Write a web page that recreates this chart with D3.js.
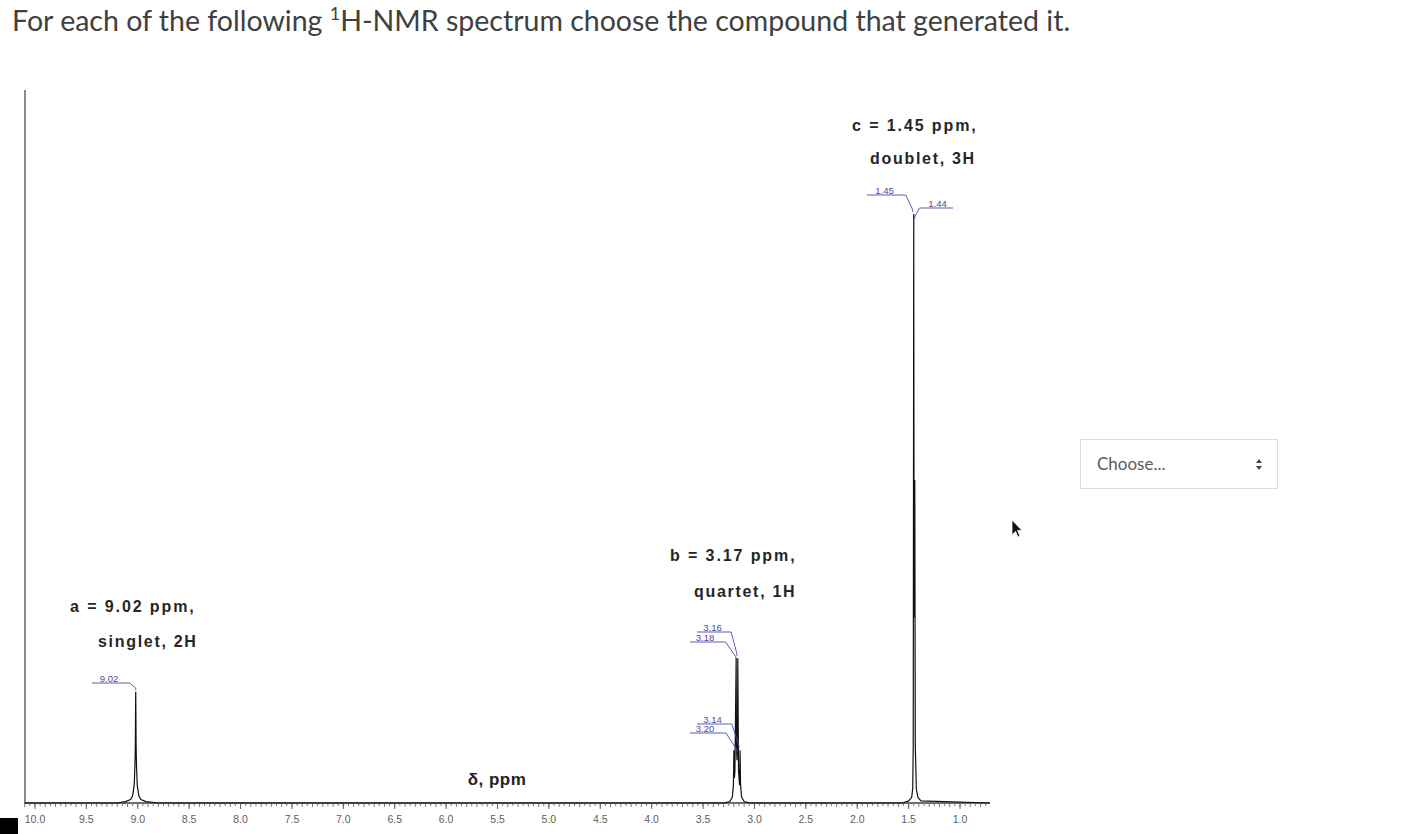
<!DOCTYPE html>
<html><head><meta charset="utf-8">
<script src="https://cdn.jsdelivr.net/npm/d3@7"></script>
<style>
html,body{margin:0;padding:0;background:#fff;}
svg{display:block;}
</style></head>
<body>
<svg id="chart" width="1420" height="834"></svg>
<script>
// ---------- data ----------
const tickLabels = ["10.0","9.5","9.0","8.5","8.0","7.5","7.0","6.5","6.0","5.5","5.0","4.5","4.0","3.5","3.0","2.5","2.0","1.5","1.0"];
const tickValues = [10.0,9.5,9.0,8.5,8.0,7.5,7.0,6.5,6.0,5.5,5.0,4.5,4.0,3.5,3.0,2.5,2.0,1.5,1.0];

// spectrum trace (ppm, intensity)
const spectrumPpm = [10.1, 9.20, 9.12, 9.07, 9.05, 9.035, 9.028, 9.024, 9.02, 9.016, 9.012, 9.005, 8.99, 8.97, 8.92, 8.80,
  3.30, 3.24, 3.215, 3.205, 3.20, 3.195, 3.19, 3.178, 3.175, 3.17, 3.165, 3.162, 3.155, 3.15, 3.145, 3.14, 3.135, 3.125, 3.10, 3.04,
  1.56, 1.50, 1.47, 1.46, 1.455, 1.45, 1.447, 1.445, 1.443, 1.44, 1.435, 1.425, 1.41, 1.38, 0.71];
const spectrumInt = [0, 0, 0.2, 0.5, 1.0, 2.5, 5.0, 7.7, 15.6, 7.7, 5.0, 2.5, 1.0, 0.5, 0.2, 0,
  0, 0.2, 0.8, 2.5, 7.4, 3.5, 4.5, 20.3, 8.0, 6.0, 8.0, 20.3, 4.5, 3.5, 2.5, 7.4, 2.5, 0.8, 0.2, 0,
  0, 0.3, 0.8, 2.0, 8.0, 82.6, 30.0, 26.0, 30.0, 45.3, 8.0, 2.0, 0.8, 0.3, 0];

// peak-pick labels
const pickText  = ["9.02", "3.16", "3.18", "3.14", "3.20", "1.45", "1.44"];
const pickGroup = ["a", "b", "b", "b", "b", "c", "c"];

// multiplet annotations
const multName  = ["a", "b", "c"];
const multShift = [9.02, 3.17, 1.45];
const multDesc  = ["singlet, 2H", "quartet, 1H", "doublet, 3H"];

const titleText = ["For each of the following ", "1", "H-NMR spectrum choose the compound that generated it."];
const axisTitle = "δ, ppm";
const selectText = "Choose...";

// ---------- layout ----------
const svg = d3.select("#chart");
svg.append("rect").attr("width",1420).attr("height",834).attr("fill","#fff");

const x = d3.scaleLinear().domain([10.0, 1.0]).range([35, 960]);
const y = d3.scaleLinear().domain([0, 100]).range([803, 90]);

// title
const title = svg.append("text").attr("x", 12).attr("y", 31)
  .attr("font-family", "Lato, 'Open Sans', sans-serif").attr("font-size", 27)
  .attr("fill", "#404040");
title.append("tspan").text(titleText[0]);
title.append("tspan").attr("font-size", 17).attr("dy", -11).text(titleText[1]);
title.append("tspan").attr("dy", 11).text(titleText[2]);
(function fit(){
  const w = title.node().getComputedTextLength();
  const target = 1059;
  const fs = 27 * target / w;
  title.attr("font-size", fs);
  title.select("tspan:nth-child(2)").attr("font-size", fs*0.63);
})();

// left vertical frame line
svg.append("line").attr("x1", 25).attr("x2", 25).attr("y1", 90).attr("y2", 804)
  .attr("stroke", "#8a8a8a").attr("stroke-width", 2);

// x axis baseline
const axisG = svg.append("g");
axisG.append("line").attr("x1", 24).attr("x2", 990).attr("y1", 803).attr("y2", 803)
  .attr("stroke", "#6e6e6e").attr("stroke-width", 2);
// minor ticks
const minor = d3.range(0, 190).map(i => 10.1 - i * 0.05).filter(v => x(v) >= 24 && x(v) <= 990);
axisG.selectAll("line.minor").data(minor).join("line").attr("class","minor")
  .attr("x1", d => x(d)).attr("x2", d => x(d)).attr("y1", 803).attr("y2", d => (Math.abs(Math.round(d*10) - d*10) < 1e-6) ? 807 : 806)
  .attr("stroke", "#7a7a7a").attr("stroke-width", 1);
axisG.selectAll("line.major").data(tickValues).join("line").attr("class","major")
  .attr("x1", d => x(d)).attr("x2", d => x(d)).attr("y1", 803).attr("y2", 809)
  .attr("stroke", "#666").attr("stroke-width", 1);
axisG.selectAll("text.tl").data(tickValues).join("text").attr("class","tl")
  .attr("x", d => x(d)).attr("y", 823).attr("text-anchor", "middle")
  .attr("font-family", "'Liberation Sans', Arial, sans-serif").attr("font-size", 10.5)
  .attr("fill", "#5e5e5e").text((d,i) => tickLabels[i]);

// axis title
svg.append("text").attr("x", 497).attr("y", 785).attr("text-anchor", "middle")
  .attr("font-family", "'Liberation Sans', Arial, sans-serif").attr("font-weight", "bold")
  .attr("font-size", 17).attr("letter-spacing", 0.5).attr("fill", "#222").text(axisTitle);

// spectrum
const pts = spectrumPpm.map((p, i) => [p, spectrumInt[i]]);
const line = d3.line().x(d => x(d[0])).y(d => y(d[1]));
svg.append("path").datum(pts).attr("d", line).attr("fill", "none")
  .attr("stroke", "#111").attr("stroke-width", 1.2).attr("stroke-linejoin", "miter");

// peak-pick leaders (layout per label: underline x0,x1,y and end offset)
const leaderLayout = {
  "9.02": {x0: 92, x1: 126, uy: 683, ex: 0, ey: 690},
  "3.16": {x0: 697, x1: 728, uy: 632, ex: 0, ey: 656},
  "3.18": {x0: 690, x1: 720, uy: 642, ex: -1, ey: 659},
  "3.14": {x0: 697, x1: 728, uy: 724, ex: 2, ey: 748},
  "3.20": {x0: 690, x1: 720, uy: 733, ex: 0, ey: 752},
  "1.45": {x0: 867, x1: 902, uy: 195, ex: -1, ey: 212},
  "1.44": {x0: 922, x1: 953, uy: 208, ex: 1, ey: 219}
};
const groupCenter = {};
multName.forEach((n, i) => groupCenter[n] = multShift[i]);
const leaderColor = "#4a4aa8";
pickText.forEach((t, i) => {
  const L = leaderLayout[t];
  const px = x(groupCenter[pickGroup[i]]) + L.ex;
  const startX = (L.x1 < px) ? L.x1 : L.x0;
  const farX = (L.x1 < px) ? L.x0 : L.x1;
  svg.append("polyline")
    .attr("points", [[farX, L.uy], [startX, L.uy], [startX + (px - startX) * 0.35, L.uy], [px, L.ey - 2], [px, L.ey]].map(p => p.join(",")).join(" "))
    .attr("fill", "none").attr("stroke", leaderColor).attr("stroke-width", 0.9);
  svg.append("text").attr("x", (L.x0 + L.x1) / 2).attr("y", L.uy - 1.5).attr("text-anchor", "middle")
    .attr("font-family", "'Liberation Sans', Arial, sans-serif").attr("font-size", 9.5)
    .attr("fill", leaderColor).text(t);
});

// multiplet annotations
const annLayout = [
  {x1: 70, y1: 612, x2: 98, y2: 647},
  {x1: 670, y1: 561, x2: 694, y2: 597},
  {x1: 852, y1: 131, x2: 870, y2: 164}
];
multName.forEach((n, i) => {
  const A = annLayout[i];
  svg.append("text").attr("x", A.x1).attr("y", A.y1)
    .attr("font-family", "'Liberation Sans', Arial, sans-serif").attr("font-weight", "bold")
    .attr("font-size", 16).attr("letter-spacing", 1.9).attr("fill", "#262626")
    .text(`${n} = ${multShift[i].toFixed(2)} ppm,`);
  svg.append("text").attr("x", A.x2).attr("y", A.y2)
    .attr("font-family", "'Liberation Sans', Arial, sans-serif").attr("font-weight", "bold")
    .attr("font-size", 16).attr("letter-spacing", 1.7).attr("fill", "#262626")
    .text(multDesc[i]);
});

// select box
const sel = svg.append("g");
sel.append("rect").attr("x", 1080.5).attr("y", 439.5).attr("width", 197).attr("height", 49)
  .attr("fill", "#fff").attr("stroke", "#dcdcdc").attr("stroke-width", 1);
sel.append("text").attr("x", 1097).attr("y", 470)
  .attr("font-family", "Lato, 'Open Sans', sans-serif").attr("font-size", 17)
  .attr("fill", "#5a5a5a").text(selectText);
sel.append("path").attr("d", "M1256,463 L1262,463 L1259,459 Z M1256,466 L1262,466 L1259,470 Z").attr("fill", "#444");

// mouse cursor
svg.append("path").attr("d", "M1012,520 L1012,535 L1015.5,531.5 L1018,537 L1020,536 L1017.5,530.5 L1022,530.5 Z")
  .attr("fill", "#111").attr("stroke", "#fff").attr("stroke-width", 0.8);

// black corner square
svg.append("rect").attr("x", 0).attr("y", 818).attr("width", 18).attr("height", 16).attr("fill", "#000");
</script>
</body></html>
